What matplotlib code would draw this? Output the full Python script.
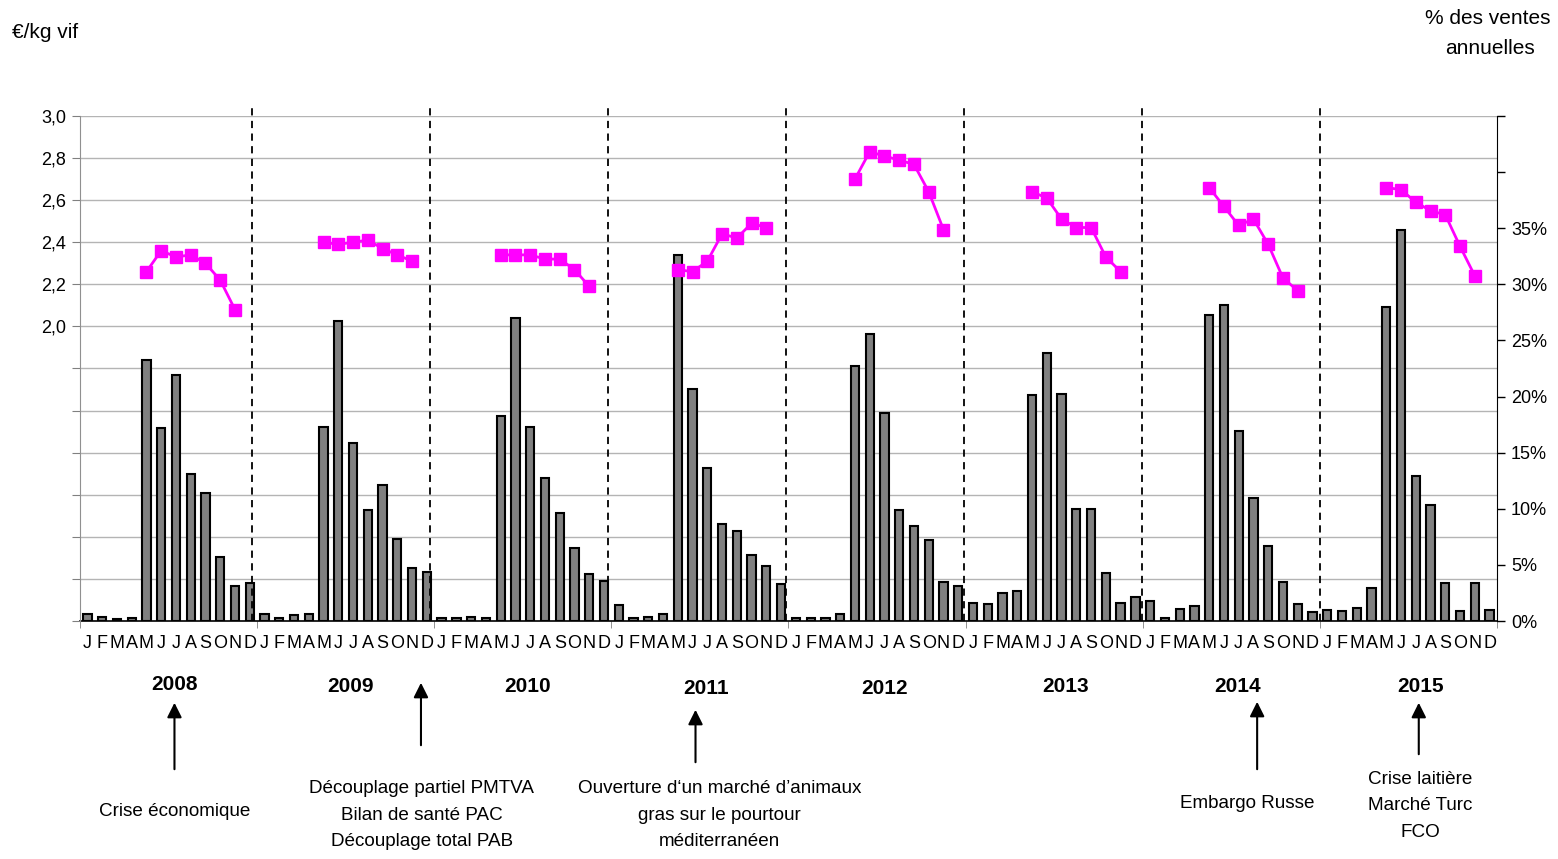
import numpy as np
import matplotlib
matplotlib.use("Agg")
import matplotlib.pyplot as plt
from matplotlib import font_manager
from matplotlib.transforms import blended_transform_factory

# Arial Narrow look-alike if present, plain Liberation Sans otherwise
avail = {f.name for f in font_manager.fontManager.ttflist}
narrow = 'Liberation Sans Narrow' if 'Liberation Sans Narrow' in avail else 'Liberation Sans'
plt.rcParams['font.family'] = ['Liberation Sans', 'DejaVu Sans']

years = ['2008', '2009', '2010', '2011', '2012', '2013', '2014', '2015']
months = ['J', 'F', 'M', 'A', 'M', 'J', 'J', 'A', 'S', 'O', 'N', 'D']

# % of annual sales per month (right axis)
pct_2008 = [0.6, 0.4, 0.15, 0.3, 23.3, 17.2, 21.9, 13.1, 11.4, 5.7, 3.1, 3.4]
pct_2009 = [0.65, 0.3, 0.5, 0.6, 17.3, 26.7, 15.9, 9.9, 12.1, 7.3, 4.7, 4.4]
pct_2010 = [0.3, 0.3, 0.35, 0.3, 18.3, 27.0, 17.3, 12.7, 9.6, 6.5, 4.2, 3.6]
pct_2011 = [1.4, 0.25, 0.4, 0.65, 32.6, 20.7, 13.6, 8.6, 8.0, 5.9, 4.9, 3.3]
pct_2012 = [0.3, 0.25, 0.3, 0.6, 22.7, 25.6, 18.5, 9.9, 8.5, 7.2, 3.5, 3.1]
pct_2013 = [1.6, 1.55, 2.5, 2.7, 20.1, 23.9, 20.2, 10.0, 10.0, 4.3, 1.6, 2.1]
pct_2014 = [1.75, 0.3, 1.1, 1.3, 27.3, 28.2, 16.9, 11.0, 6.7, 3.5, 1.5, 0.8]
pct_2015 = [0.95, 0.9, 1.2, 2.9, 28.0, 34.8, 12.9, 10.35, 3.4, 0.9, 3.4, 1.0]

# price €/kg vif, May to November (left axis)
price_2008 = [2.26, 2.36, 2.33, 2.34, 2.30, 2.22, 2.08]
price_2009 = [2.40, 2.39, 2.40, 2.41, 2.37, 2.34, 2.31]
price_2010 = [2.34, 2.34, 2.34, 2.32, 2.32, 2.27, 2.19]
price_2011 = [2.27, 2.26, 2.31, 2.44, 2.42, 2.49, 2.47]
price_2012 = [2.70, 2.83, 2.81, 2.79, 2.77, 2.64, 2.46]
price_2013 = [2.64, 2.61, 2.51, 2.47, 2.47, 2.33, 2.26]
price_2014 = [2.66, 2.57, 2.48, 2.51, 2.39, 2.23, 2.17]
price_2015 = [2.66, 2.65, 2.59, 2.55, 2.53, 2.38, 2.24]

pct_all = [pct_2008, pct_2009, pct_2010, pct_2011, pct_2012, pct_2013, pct_2014, pct_2015]
price_all = [price_2008, price_2009, price_2010, price_2011,
             price_2012, price_2013, price_2014, price_2015]

# events below the axis
event_text = ['Crise économique',
              'Découplage partiel PMTVA\nBilan de santé PAC\nDécouplage total PAB',
              'Ouverture d\u2018un marché d\u2019animaux\ngras sur le pourtour\nméditerranéen',
              'Embargo Russe',
              'Crise laitière\nMarché Turc\nFCO']

W, H = 1558, 859
fig = plt.figure(figsize=(W / 100, H / 100), dpi=100)
axb = fig.add_axes([80 / W, 1 - 621 / H, (1497 - 80) / W, (621 - 116) / H])
axp = axb.twinx()

n = len(years) * len(months)
x = np.arange(n)
pct = np.concatenate(pct_all)

axb.set_xlim(-0.5, n - 0.5)
axb.set_ylim(0, 45)
axp.set_ylim(0.6, 3.0)

# gridlines from the price axis, drawn behind the bars
price_ticks = np.round(np.arange(0.6, 3.01, 0.2), 1)
gtrans = blended_transform_factory(axb.transAxes, axp.transData)
for p in price_ticks:
    axb.plot([0, 1], [p, p], transform=gtrans, color='#b4b4b4', lw=1, zorder=0)

axb.bar(x, pct, width=0.56, color='#808080', edgecolor='black', linewidth=1.5, zorder=2)

for k, pr in enumerate(price_all):
    xs = 12 * k + np.arange(4, 4 + len(pr))
    axp.plot(xs, pr, color='#ff00ff', lw=2, marker='s', markersize=9, zorder=3)

# dashed year separators
dtrans = blended_transform_factory(axp.transData, axp.transAxes)
for k in range(len(years) - 1):
    xd = 11.15 + 12.06 * k
    axp.plot([xd, xd], [0, 1.022], transform=dtrans, color='black', lw=1.3,
             dashes=(4, 3), clip_on=False, zorder=4)

# axes cosmetics
axb.yaxis.set_ticks_position('right')
axb.set_yticks(np.arange(0, 46, 5))
axb.set_yticklabels([f'{v}%' if v <= 35 else '' for v in range(0, 46, 5)])
axb.tick_params(axis='y', direction='out', length=6, width=1, labelsize=13, pad=4)
axb.set_xticks(x)
axb.set_xticklabels(months * len(years))
axb.set_xticks(np.arange(-0.5, n, 12), minor=True)
axb.tick_params(axis='x', which='major', length=0, labelsize=13, pad=10)
axb.tick_params(axis='x', which='minor', length=5, color='#808080')
for s in ['top', 'left']:
    axb.spines[s].set_visible(False)
axb.spines['right'].set_color('black')
axb.spines['bottom'].set_color('black')
axb.spines['bottom'].set_linewidth(1.2)

axp.yaxis.set_ticks_position('left')
axp.set_yticks(price_ticks)
axp.set_yticklabels([f'{p:.1f}'.replace('.', ',') if p >= 2.0 else '' for p in price_ticks])
axp.tick_params(axis='y', direction='out', length=6, color='#808080', labelsize=13, pad=4)
for s in ['top', 'right', 'bottom']:
    axp.spines[s].set_visible(False)
axp.spines['left'].set_color('#909090')

# headers
fig.text(12 / W, 1 - 33 / H, '€/kg vif', fontsize=15, family=narrow, ha='left', va='center')
fig.text(1488 / W, 1 - 19 / H, '% des ventes', fontsize=15, family=narrow,
         ha='center', va='center')
fig.text(1490 / W, 1 - 48 / H, 'annuelles', fontsize=15, family=narrow,
         ha='center', va='center')

# year labels
year_label_x = [5.9, 17.85, 29.85, 41.9, 54.0, 66.3, 77.9, 90.3]
year_label_y = [684, 686, 686, 688, 688, 687, 686, 686]
for yr, xl, yl in zip(years, year_label_x, year_label_y):
    axb.annotate(yr, xy=(xl, 1 - yl / H), xycoords=('data', 'figure fraction'),
                 ha='center', va='center', fontsize=15, fontweight='bold', family=narrow,
                 annotation_clip=False)

# event arrows and texts
arrow_x = [5.9, 22.6, 41.2, 79.25, 90.2]
arrow_top = [700, 680, 707, 699, 700]
arrow_bot = [772, 748, 765, 772, 757]
text_x = [5.9, 22.65, 42.85, 78.6, 90.3]
text_y = [811, 815, 815, 803, 806]
for xa, yt, yb in zip(arrow_x, arrow_top, arrow_bot):
    axb.annotate('', xy=(xa, 1 - yt / H), xytext=(xa, 1 - yb / H),
                 xycoords=('data', 'figure fraction'), textcoords=('data', 'figure fraction'),
                 arrowprops=dict(arrowstyle='-|>', color='black', lw=1.5, mutation_scale=22),
                 annotation_clip=False)
for txt, xt, ty in zip(event_text, text_x, text_y):
    axb.annotate(txt, xy=(xt, 1 - ty / H), xycoords=('data', 'figure fraction'),
                 ha='center', va='center', fontsize=13.6, family=narrow, linespacing=1.75,
                 annotation_clip=False)

fig.savefig('out.png', dpi=100)
